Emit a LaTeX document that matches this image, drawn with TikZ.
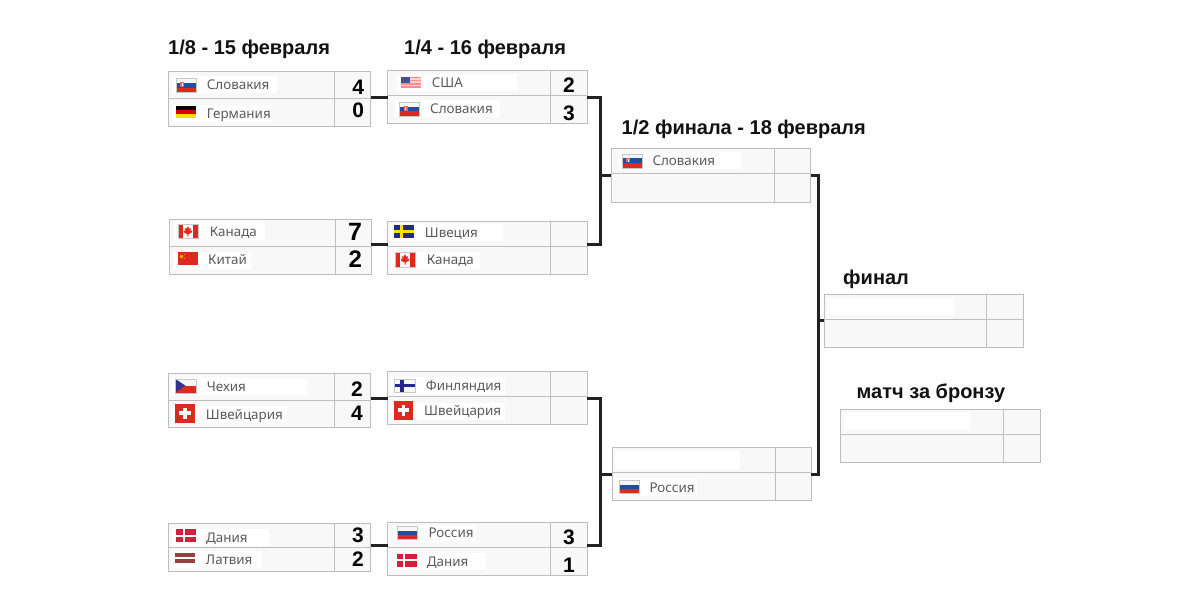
\documentclass[tikz,border=0pt]{standalone}
\usepackage{fontspec}
\setmainfont{Liberation Sans}
\newfontfamily\teamfont{Noto Sans}
\definecolor{cellfill}{HTML}{F8F8F8}
\definecolor{cellline}{HTML}{BEBEBE}
\definecolor{linkcol}{HTML}{222222}
\definecolor{namecol}{HTML}{5A5A5A}
\definecolor{fred}{HTML}{DC2A1E}
\definecolor{fblue}{HTML}{1F4FA0}
\definecolor{fwhite}{HTML}{F6F6F6}
\definecolor{dkred}{HTML}{D21F3C}
\tikzset{
  cellbox/.style={draw=cellline,fill=cellfill,line width=1pt,inner sep=0pt,outer sep=0pt},
  patch/.style={fill=white,draw=none},
  teamlabel/.style={anchor=base west,inner sep=0pt,text=namecol,font=\teamfont\fontsize{13.4}{14}\selectfont},
  headlabel/.style={anchor=base west,inner sep=0pt,text=black!93,font=\bfseries\fontsize{20}{22}\selectfont},
  scorelabel/.style={anchor=center,inner sep=0pt,text=black,font=\bfseries\fontsize{#1}{24}\selectfont},
  scorelabel/.default=21,
  link/.style={draw=linkcol,line width=3pt,line join=miter}
}
% match box: name, left, split, top, middle, score width, bottom
\newcommand{\matchbox}[7]{%
  \node[cellbox,minimum width={(#3-#2)*1pt},minimum height={(#5-#4)*1pt}] (#1tn) at ({(#2+#3)/2},{(#4+#5)/2}) {};
  \node[cellbox,minimum width={(#3-#2)*1pt},minimum height={(#7-#5)*1pt}] (#1bn) at ({(#2+#3)/2},{(#5+#7)/2}) {};
  \node[cellbox,minimum width={(#6)*1pt},minimum height={(#5-#4)*1pt}] (#1ts) at ({#3+#6/2},{(#4+#5)/2}) {};
  \node[cellbox,minimum width={(#6)*1pt},minimum height={(#7-#5)*1pt}] (#1bs) at ({#3+#6/2},{(#5+#7)/2}) {};
}
% flags: unit square, x y w h
\newenvironment{flagat}[4]{\begin{scope}[shift={(#1,#2)},x=#3pt,y=-#4pt]}{\end{scope}}
\newcommand{\frameflag}{\draw[black!22,line width=0.3pt] (0,0) rectangle (1,1);}
\newcommand{\fstripes}[3]{%
  \fill[#1] (0,0) rectangle (1,1/3);
  \fill[#2] (0,1/3) rectangle (1,2/3);
  \fill[#3] (0,2/3) rectangle (1,1);}
\newcommand{\flagSK}[4]{\begin{flagat}{#1}{#2}{#3}{#4}\fstripes{fwhite}{fblue}{fred}
  \fill[fred!70!white] (0.22,0.3) rectangle (0.42,0.62); \fill[white] (0.3,0.35) rectangle (0.34,0.58); \frameflag\end{flagat}}
\newcommand{\flagRU}[4]{\begin{flagat}{#1}{#2}{#3}{#4}\fstripes{fwhite}{fblue}{fred}\frameflag\end{flagat}}
\newcommand{\flagDE}[4]{\begin{flagat}{#1}{#2}{#3}{#4}\fstripes{black}{red!85!black}{yellow!80!orange}\end{flagat}}
\newcommand{\flagUS}[4]{\begin{flagat}{#1}{#2}{#3}{#4}\fill[red!18!white] (0,0) rectangle (1,1);
  \foreach \k in {0,2,4,6}{\fill[red!45!white] (0,\k/7) rectangle (1,{(\k+1)/7});}
  \fill[blue!40!black!70] (0,0) rectangle (0.42,0.55);\end{flagat}}
\newcommand{\flagCA}[4]{\begin{flagat}{#1}{#2}{#3}{#4}\fill[white] (0,0) rectangle (1,1);
  \fill[fred] (0,0) rectangle (0.27,1); \fill[fred] (0.73,0) rectangle (1,1);
  \fill[fred] (0.5,0.14)--(0.57,0.32)--(0.65,0.27)--(0.62,0.5)--(0.7,0.43)--(0.71,0.56)--(0.55,0.7)--(0.525,0.7)--(0.525,0.86)--(0.475,0.86)--(0.475,0.7)--(0.45,0.7)--(0.29,0.56)--(0.3,0.43)--(0.38,0.5)--(0.35,0.27)--(0.43,0.32)--cycle;
  \frameflag\end{flagat}}
\newcommand{\flagCN}[4]{\begin{flagat}{#1}{#2}{#3}{#4}\fill[fred] (0,0) rectangle (1,1);
  \fill[orange!60!yellow] (0.12,0.2) rectangle (0.26,0.42);
  \fill[orange!60!yellow] (0.3,0.1) rectangle (0.35,0.2);
  \fill[orange!60!yellow] (0.3,0.42) rectangle (0.35,0.52);\end{flagat}}
\newcommand{\flagSE}[4]{\begin{flagat}{#1}{#2}{#3}{#4}\fill[blue!50!black!85] (0,0) rectangle (1,1);
  \fill[yellow!80!orange] (0.28,0) rectangle (0.46,1); \fill[yellow!80!orange] (0,0.39) rectangle (1,0.61);\end{flagat}}
\newcommand{\flagCZ}[4]{\begin{flagat}{#1}{#2}{#3}{#4}\fill[fwhite] (0,0) rectangle (1,0.5); \fill[fred] (0,0.5) rectangle (1,1);
  \fill[blue!45!black!80] (0,0)--(0.5,0.5)--(0,1)--cycle; \frameflag\end{flagat}}
\newcommand{\flagCH}[4]{\begin{flagat}{#1}{#2}{#3}{#4}\fill[fred] (0,0) rectangle (1,1);
  \fill[white] (0.4,0.2) rectangle (0.6,0.8); \fill[white] (0.2,0.4) rectangle (0.8,0.6);\end{flagat}}
\newcommand{\flagDK}[4]{\begin{flagat}{#1}{#2}{#3}{#4}\fill[dkred] (0,0) rectangle (1,1);
  \fill[white] (0.33,0) rectangle (0.43,1); \fill[white] (0,0.43) rectangle (1,0.57);\end{flagat}}
\newcommand{\flagLV}[4]{\begin{flagat}{#1}{#2}{#3}{#4}\fill[red!45!black!75] (0,0) rectangle (1,0.4);\fill[white] (0,0.4) rectangle (1,0.6);\fill[red!45!black!75] (0,0.6) rectangle (1,1);\end{flagat}}
\newcommand{\flagFI}[4]{\begin{flagat}{#1}{#2}{#3}{#4}\fill[fwhite] (0,0) rectangle (1,1);
  \fill[blue!50!black!85] (0.28,0) rectangle (0.46,1); \fill[blue!50!black!85] (0,0.39) rectangle (1,0.61);\frameflag\end{flagat}}
% team: id, flag macro, fx, fy, fw, fh, text x, centre y, patch right
\newcommand{\team}[9]{\fill[patch] ({#3-4},{#8-8.5}) rectangle (#9,{#8+8.5}); #2{#3}{#4}{#5}{#6}\node[teamlabel] (#1) at (#7,{#8+4.8}) {\teamtext};}
\begin{document}
\begin{tikzpicture}[x=1pt,y=-1pt]
\useasboundingbox (0,0) rectangle (1200,607);
\fill[white] (0,0) rectangle (1200,607);
% headings
\node[headlabel] (h1) at (168,55) {1/8 - 15 февраля};
\node[headlabel] (h2) at (404,55) {1/4 - 16 февраля};
\node[headlabel] (h3) at (621.5,135) {1/2 финала - 18 февраля};
\node[headlabel] (h4) at (843,284) {финал};
\node[headlabel] (h5) at (856.5,398) {матч за бронзу};
% boxes
\matchbox{ra}{168.3}{334.5}{71.7}{98.7}{36}{126.3}
\matchbox{rb}{169}{335}{219.5}{246.3}{36}{274.3}
\matchbox{rc}{168.3}{334.5}{373}{400}{36}{427.7}
\matchbox{rd}{168.3}{334.5}{523.7}{547.7}{36}{571.3}
\matchbox{qa}{387.8}{550.5}{70.7}{95.7}{36.7}{123.3}
\matchbox{qb}{387.8}{550.5}{221}{246.3}{36.7}{274.3}
\matchbox{qc}{387.8}{550.5}{371.7}{396.7}{36.7}{424.3}
\matchbox{qd}{387.8}{550.5}{522.7}{547.7}{36.7}{575.3}
\matchbox{sa}{611.3}{774.3}{149}{174}{36.4}{202}
\matchbox{sb}{612.3}{775}{447.3}{472.7}{36.4}{500.3}
\matchbox{fa}{824}{986.7}{294}{319.3}{36.6}{347}
\matchbox{fb}{840.7}{1003.3}{409}{434.3}{37}{462}
% empty slots' white patches
\fill[patch] (615,451) rectangle (740,470);
\fill[patch] (827,298) rectangle (954,314.5);
\fill[patch] (844,413) rectangle (970,430);
% teams
\def\teamtext{Словакия}\team{t1}{\flagSK}{176}{78.3}{20}{14}{206.7}{84.7}{277}
\def\teamtext{Германия}\team{t2}{\flagDE}{176}{106}{20}{12.3}{206.7}{113.3}{272}
\def\teamtext{Канада}\team{t3}{\flagCA}{177.7}{224.3}{20.3}{14}{209.7}{231.7}{265}
\def\teamtext{Китай}\team{t4}{\flagCN}{177.7}{252.3}{20}{13}{208}{260}{251}
\def\teamtext{Чехия}\team{t5}{\flagCZ}{175}{378.7}{21}{14}{206.7}{386.7}{307}
\def\teamtext{Швейцария}\team{t6}{\flagCH}{175.3}{403.7}{19.7}{19}{205.7}{414.3}{287}
\def\teamtext{Дания}\team{t7}{\flagDK}{176}{529.3}{20}{12.7}{206}{537.3}{269}
\def\teamtext{Латвия}\team{t8}{\flagLV}{175.3}{552.7}{19.7}{10.6}{205.7}{559.3}{262}
\def\teamtext{США}\team{t9}{\flagUS}{401.3}{76.7}{19.7}{11}{431.7}{82.7}{517}
\def\teamtext{Словакия}\team{t10}{\flagSK}{399.3}{102}{20}{14}{430}{109}{500}
\def\teamtext{Швеция}\team{t11}{\flagSE}{394.3}{225.3}{19.7}{12.4}{424.7}{232.7}{503}
\def\teamtext{Канада}\team{t12}{\flagCA}{395}{252.3}{20}{14.4}{426.7}{260}{480}
\def\teamtext{Финляндия}\team{t13}{\flagFI}{394.3}{379}{20.7}{12.7}{425.7}{385.7}{505}
\def\teamtext{Швейцария}\team{t14}{\flagCH}{393.7}{400.7}{19.6}{19.3}{424}{411}{505}
\def\teamtext{Россия}\team{t15}{\flagRU}{397.3}{526.3}{20}{12.7}{428.3}{533}{476}
\def\teamtext{Дания}\team{t16}{\flagDK}{396.7}{553.7}{20}{13}{426.7}{561.3}{486}
\def\teamtext{Словакия}\team{t17}{\flagSK}{621.7}{153.7}{20}{14}{652.3}{160.3}{741}
\def\teamtext{Россия}\team{t18}{\flagRU}{618.7}{480.3}{20}{13}{649.3}{487.3}{697}
% scores
\node[scorelabel] (s1) at (358.3,87.3) {4};
\node[scorelabel] (s2) at (358.3,110.7) {0};
\node[scorelabel=25] (s3) at (355,232) {7};
\node[scorelabel=24] (s4) at (355.3,259.3) {2};
\node[scorelabel] (s5) at (357,389.3) {2};
\node[scorelabel] (s6) at (357,413.3) {4};
\node[scorelabel] (s7) at (358,535.7) {3};
\node[scorelabel] (s8) at (358,559.3) {2};
\node[scorelabel] (s9) at (569,85) {2};
\node[scorelabel] (s10) at (569,113.3) {3};
\node[scorelabel] (s11) at (569,537.7) {3};
\node[scorelabel] (s12) at (569,565.3) {1};
% connector ports
\coordinate (pa) at (370.5,97.3); \coordinate (pa2) at (387.8,97.3);
\coordinate (pb) at (371,244.3); \coordinate (pb2) at (387.8,244.3);
\coordinate (pc) at (370.5,398.3); \coordinate (pc2) at (387.8,398.3);
\coordinate (pd) at (370.5,545.7); \coordinate (pd2) at (387.8,545.7);
\coordinate (qao) at (587.2,97.3); \coordinate (qbo) at (587.2,244.7);
\coordinate (qco) at (587.2,398.3); \coordinate (qdo) at (587.2,545.7);
\coordinate (sai) at (611.3,175.7); \coordinate (sbi) at (612.3,474);
\coordinate (sao) at (810.7,175.7); \coordinate (sbo) at (811.4,474);
\coordinate (fai) at (824,320.7);
\coordinate (bus1) at (600,175.7); \coordinate (bus2) at (600,474); \coordinate (bus3) at (818.8,320.7);
% connectors
\draw[link] (pa) -- (pa2);
\draw[link] (pb) -- (pb2);
\draw[link] (pc) -- (pc2);
\draw[link] (pd) -- (pd2);
\draw[link] (qao) -| (bus1) |- (qbo);
\draw[link] (bus1) -- (sai);
\draw[link] (qco) -| (bus2) |- (qdo);
\draw[link] (bus2) -- (sbi);
\draw[link] (sao) -| (bus3) |- (sbo);
\draw[link] (bus3) -- (fai);
\end{tikzpicture}
\end{document}
